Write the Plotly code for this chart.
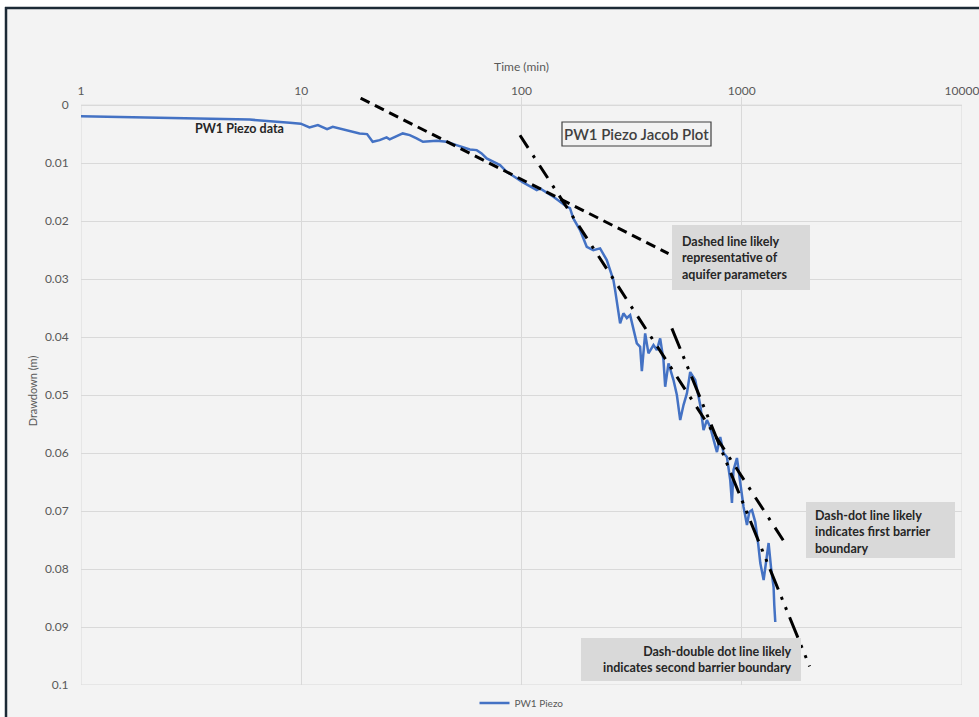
import plotly.graph_objects as go

# ---------------- data ----------------
time_min = [1.0, 2.05, 3.11, 5.83, 8.87, 9.95, 10.9, 11.9, 13.1, 13.9, 18.4, 19.9, 21.1, 22.7,
            24.4, 25.2, 28.9, 31.1, 33.4, 35.7, 41.2, 45.7, 50.7, 58.3, 62.6, 65.9, 69.5,
            74.4, 79.9, 85.7, 88.7, 95.1, 101.6, 117.3, 121.4, 139.6, 160.4, 166, 171.9,
            184.4, 197.8, 211.9, 227.4,
            243.9, 261.4, 266.1, 270.9, 280.4, 290.2, 300.8, 311.4, 322.3, 333.9, 345.6,
            351.9, 364.3, 377.1, 397.4, 411.7, 426.2, 441.2, 449.1, 464.9, 489.8, 507.5,
            525.5, 543.9, 563.6, 583.4, 614.8, 647.8, 670.6, 694.8, 719.2, 744.5, 771.5,
            798.6, 826.7, 856.5, 886.6, 902.6, 917.7, 951.0, 984.5, 1019, 1056, 1082, 1113,
            1152, 1189, 1214, 1257, 1293, 1324, 1362, 1395, 1405, 1420]
drawdown_m = [0.0019, 0.00216, 0.00233, 0.0025, 0.00305, 0.0032, 0.00384, 0.00345, 0.00414,
              0.00374, 0.00488, 0.0050, 0.00633, 0.00603, 0.00557, 0.00591, 0.00488, 0.00517,
              0.00574, 0.00633, 0.00616, 0.00633, 0.0069, 0.00764, 0.00776, 0.00833, 0.00919,
              0.00978, 0.01034, 0.0115, 0.0119, 0.01264, 0.01333, 0.01466, 0.01436, 0.0158,
              0.01753, 0.01776, 0.01953, 0.02155, 0.02443, 0.0250, 0.02471,
              0.02672, 0.03017, 0.0319, 0.03362, 0.03764, 0.03591, 0.03672, 0.03621, 0.03879,
              0.04109, 0.04167, 0.04586, 0.03936, 0.04281, 0.04138, 0.04224, 0.04022, 0.04397,
              0.04857, 0.04453, 0.04741, 0.0500, 0.05431, 0.05172, 0.04971, 0.04603, 0.04741,
              0.05172, 0.05603, 0.05431, 0.05552, 0.05776, 0.05983, 0.05724, 0.0600, 0.06069,
              0.06466, 0.06862, 0.06293, 0.06086, 0.06517, 0.06931, 0.07241, 0.07017, 0.06983,
              0.0719, 0.07586, 0.07897, 0.0819, 0.07845, 0.07552, 0.08017, 0.0831, 0.08621,
              0.08914]

dashed_t = [18.6, 465]
dashed_d = [-0.0012, 0.0256]
dashdot_t = [98.4, 1577]
dashdot_d = [0.0052, 0.0756]
dash2dot_t = [481.6, 2033]
dash2dot_d = [0.0385, 0.0968]

x_ticks = [1, 10, 100, 1000, 10000]
x_ticktext = ["1", "10", "100", "1000", "10000"]
y_ticks = [0, 0.01, 0.02, 0.03, 0.04, 0.05, 0.06, 0.07, 0.08, 0.09, 0.1]
y_ticktext = ["0", "0.01", "0.02", "0.03", "0.04", "0.05", "0.06", "0.07", "0.08", "0.09", "0.1"]

# ---------------- layout helpers ----------------
W, H = 979, 717
L, R, T, B = 81, 17, 97, 32
PW, PH = W - L - R, H - T - B


def px(x):
    return (x - L) / PW


def py(y):
    return (H - B - y) / PH


FONT = "Lato, 'Open Sans', sans-serif"
GRID = "#d9d9d9"
TXT = "#595959"

fig = go.Figure()

fig.add_trace(go.Scatter(x=time_min, y=drawdown_m, mode="lines", name="PW1 Piezo",
                         line=dict(color="#4472C4", width=2.5)))
fig.add_trace(go.Scatter(x=dashed_t, y=dashed_d, mode="lines", showlegend=False,
                         line=dict(color="black", width=3, dash="10px,6px")))
fig.add_trace(go.Scatter(x=dashdot_t, y=dashdot_d, mode="lines", showlegend=False,
                         line=dict(color="black", width=3, dash="15px,9px,3px,9px")))
fig.add_trace(go.Scatter(x=dash2dot_t, y=dash2dot_d, mode="lines", showlegend=False,
                         line=dict(color="black", width=3, dash="22px,8px,3px,8px,3px,8px")))

shapes = []
# outer frame (white strips + dark border on top and left)
shapes.append(dict(type="rect", xref="paper", yref="paper", x0=px(0), x1=px(W), y0=py(0), y1=py(7),
                   fillcolor="white", line=dict(width=0), layer="below"))
shapes.append(dict(type="rect", xref="paper", yref="paper", x0=px(0), x1=px(5), y0=py(0), y1=py(H),
                   fillcolor="white", line=dict(width=0), layer="below"))
shapes.append(dict(type="line", xref="paper", yref="paper", x0=px(5), x1=px(W), y0=py(8), y1=py(8),
                   line=dict(color="#1c2a36", width=2.5)))
shapes.append(dict(type="line", xref="paper", yref="paper", x0=px(6), x1=px(6), y0=py(7), y1=py(H),
                   line=dict(color="#1c2a36", width=2.5)))
# plot-area frame (data coordinates: from first to last tick)
shapes.append(dict(type="rect", xref="x", yref="y", x0=x_ticks[0], x1=x_ticks[-1],
                   y0=y_ticks[0], y1=y_ticks[-1], line=dict(color=GRID, width=1), layer="below"))
# gray text boxes
shapes.append(dict(type="rect", xref="paper", yref="paper", x0=px(672), x1=px(810), y0=py(225), y1=py(290),
                   fillcolor="#d9d9d9", line=dict(width=0)))
shapes.append(dict(type="rect", xref="paper", yref="paper", x0=px(806), x1=px(955), y0=py(502), y1=py(558),
                   fillcolor="#d9d9d9", line=dict(width=0)))
shapes.append(dict(type="rect", xref="paper", yref="paper", x0=px(581), x1=px(801), y0=py(638), y1=py(681),
                   fillcolor="#d9d9d9", line=dict(width=0)))
# title box
shapes.append(dict(type="rect", xref="paper", yref="paper", x0=px(562), x1=px(711), y0=py(122), y1=py(146),
                   line=dict(color="#404040", width=1.2)))

ann = []
BOLD = dict(family=FONT, size=12.5, color="#262626", weight="bold")
ann.append(dict(xref="paper", yref="paper", x=px(636.5), y=py(134), text="PW1 Piezo Jacob Plot",
                showarrow=False, xanchor="center", yanchor="middle",
                font=dict(family=FONT, size=15, color="#404040", weight=600)))
ann.append(dict(xref="paper", yref="paper", x=px(193), y=py(128), text="PW1 Piezo data",
                showarrow=False, xanchor="left", yanchor="middle", font=BOLD))
ann.append(dict(xref="paper", yref="paper", x=px(680), y=py(257.5),
                text="Dashed line likely<br>representative of<br>aquifer parameters",
                showarrow=False, xanchor="left", yanchor="middle", align="left", font=BOLD))
ann.append(dict(xref="paper", yref="paper", x=px(813), y=py(532),
                text="Dash-dot line likely<br>indicates first barrier<br>boundary",
                showarrow=False, xanchor="left", yanchor="middle", align="left", font=BOLD))
ann.append(dict(xref="paper", yref="paper", x=px(794), y=py(659.5),
                text="Dash-double dot line likely<br>indicates second barrier boundary",
                showarrow=False, xanchor="right", yanchor="middle", align="right", font=BOLD))

fig.update_layout(
    width=W, height=H,
    margin=dict(l=L, r=R, t=T, b=B, autoexpand=False),
    paper_bgcolor="#f3f3f3", plot_bgcolor="#f3f3f3",
    font=dict(family=FONT, color=TXT),
    shapes=shapes, annotations=ann,
    showlegend=True,
    legend=dict(orientation="h", x=0.5, xanchor="center", y=py(703), yanchor="middle",
                font=dict(family=FONT, size=10, color=TXT), bgcolor="rgba(0,0,0,0)"),
    xaxis=dict(type="log", side="top", range=[0, 4], tickvals=x_ticks, ticktext=x_ticktext,
               showgrid=True, gridcolor=GRID, gridwidth=1, zeroline=False, showline=False,
               ticks="", ticklabelstandoff=-1, ticklabeloverflow="allow", automargin=False,
               tickfont=dict(family=FONT, size=12, color=TXT),
               title=dict(text="Time (min)", font=dict(family=FONT, size=12, color=TXT), standoff=8)),
    yaxis=dict(range=[0.1, -0.0014], tickvals=y_ticks, ticktext=y_ticktext,
               showgrid=True, gridcolor=GRID, gridwidth=1, zeroline=False, showline=False,
               ticks="outside", ticklen=9, tickcolor="rgba(0,0,0,0)", automargin=False,
               tickfont=dict(family=FONT, size=12, color=TXT),
               title=dict(text="Drawdown (m)", font=dict(family=FONT, size=11, color=TXT), standoff=5)),
)

fig.write_html("out.html", config={"displayModeBar": False},
               post_script="document.body.style.margin='0';document.body.style.padding='0';"
                           "document.body.style.overflow='hidden';")
